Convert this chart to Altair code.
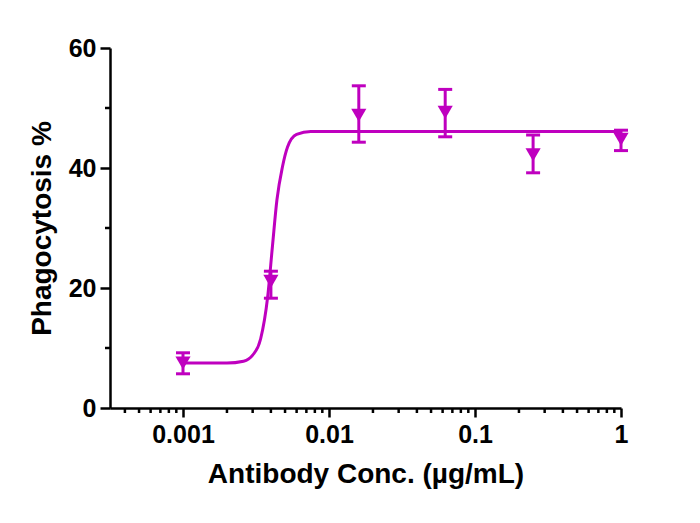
import altair as alt
import pandas as pd

# measured points
conc = [0.001, 0.004, 0.016, 0.0625, 0.25, 1]
mean = [7.5, 21.1, 48.8, 49.3, 42.2, 44.8]
err_lo = [5.7, 18.3, 44.3, 45.2, 39.2, 42.9]
err_hi = [9.2, 22.8, 53.7, 53.1, 45.5, 46.3]

# fitted curve
curve_x = [0.001, 0.002, 0.0026, 0.003, 0.0034, 0.0038, 0.0041, 0.0044, 0.0048, 0.0052, 0.006, 0.0075, 0.01, 0.1, 1]
curve_y = [7.5, 7.5, 7.8, 8.8, 11.5, 18.5, 27.0, 34.7, 40.2, 43.5, 45.6, 46.1, 46.1, 46.1, 46.1]

# axis ticks
x_major = [0.001, 0.01, 0.1, 1]
x_minor = [0.0004, 0.0005, 0.0006, 0.0007, 0.0008, 0.0009,
           0.002, 0.003, 0.004, 0.005, 0.006, 0.007, 0.008, 0.009,
           0.02, 0.03, 0.04, 0.05, 0.06, 0.07, 0.08, 0.09,
           0.2, 0.3, 0.4, 0.5, 0.6, 0.7, 0.8, 0.9]
y_major = [0, 20, 40, 60]
y_minor = [10, 30, 50]

COLOR = "#BF00BF"
FONT = "Liberation Sans"

pts = pd.DataFrame({"conc": conc, "mean": mean, "lo": err_lo, "hi": err_hi})
cur = pd.DataFrame({"x": curve_x, "y": curve_y})
xm = pd.DataFrame({"x": x_minor})
ym = pd.DataFrame({"y": y_minor})

xscale = alt.Scale(type="log", domain=[10 ** -3.5, 1], nice=False)
yscale = alt.Scale(domain=[0, 60], nice=False)

xaxis = alt.Axis(values=x_major, format="~g", title="Antibody Conc. (µg/mL)",
                 grid=False, tickSize=9, labelPadding=5, titlePadding=13)
yaxis = alt.Axis(values=y_major, title="Phagocytosis %", grid=False,
                 tickSize=10, labelPadding=4, titlePadding=12)

line = alt.Chart(cur).mark_line(color=COLOR, strokeWidth=3, interpolate="monotone").encode(
    x=alt.X("x:Q", scale=xscale, axis=xaxis),
    y=alt.Y("y:Q", scale=yscale, axis=yaxis),
)

bars = alt.Chart(pts).mark_rule(color=COLOR, strokeWidth=3, opacity=1).encode(
    x="conc:Q", y="lo:Q", y2="hi:Q"
)
cap_lo = alt.Chart(pts).mark_tick(color=COLOR, orient="horizontal", size=14, thickness=3,
                                  opacity=1).encode(
    x="conc:Q", y="lo:Q"
)
cap_hi = alt.Chart(pts).mark_tick(color=COLOR, orient="horizontal", size=14, thickness=3,
                                  opacity=1).encode(
    x="conc:Q", y="hi:Q"
)
marks = alt.Chart(pts).mark_point(shape="triangle-down", filled=True, color=COLOR,
                                  size=230, opacity=1).encode(
    x="conc:Q", y="mean:Q"
)

xminor = alt.Chart(xm).mark_rule(color="black", strokeWidth=2.5).encode(
    x="x:Q", y=alt.value(360), y2=alt.value(365)
)
yminor = alt.Chart(ym).mark_rule(color="black", strokeWidth=2.5).encode(
    y="y:Q", x=alt.value(-5), x2=alt.value(0)
)

chart = alt.layer(xminor, yminor, line, bars, cap_lo, cap_hi, marks).properties(
    width=511, height=360,
    autosize=alt.AutoSizeParams(type="none"),
    padding={"left": 102, "top": 40, "right": 60, "bottom": 100},
).configure_view(stroke=None).configure_axis(
    domainColor="black", domainWidth=2.5, tickColor="black", tickWidth=2.5,
    labelFont=FONT, labelFontSize=25, labelFontWeight="bold", labelColor="black",
    titleFont=FONT, titleFontSize=28, titleFontWeight="bold", titleColor="black",
    labelFlush=False,
)

chart.save("out.html", embed_options={"renderer": "svg", "actions": False})
